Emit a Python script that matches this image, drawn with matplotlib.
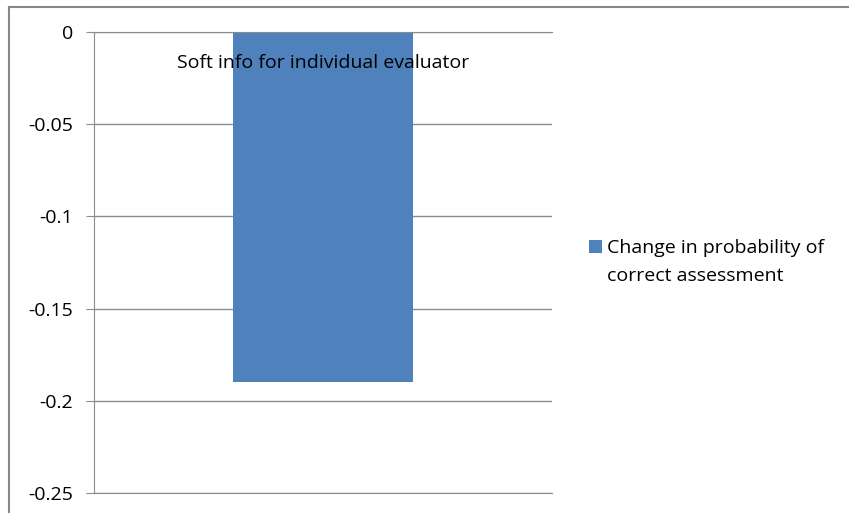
import matplotlib.pyplot as plt
from matplotlib.lines import Line2D
from matplotlib.patches import Rectangle
from matplotlib.legend_handler import HandlerPatch
from matplotlib.container import BarContainer

# Data
categories = ['Soft info for individual evaluator']
values = [-0.19]
series_name = 'Change in probability of\ncorrect assessment'
yticks = [0, -0.05, -0.1, -0.15, -0.2, -0.25]
ytick_labels = ['0', '-0.05', '-0.1', '-0.15', '-0.2', '-0.25']

plt.rcParams['font.family'] = ['Open Sans', 'DejaVu Sans']

grid_col = '#8c8c8c'
bar_col = '#4f81bd'
fs = 14
line_sp = 1.65

fig = plt.figure(figsize=(8.49, 5.13), dpi=100)

# outer chart border (top and left edges visible)
fig.add_artist(Line2D([9 / 849, 1], [1 - 7 / 513, 1 - 7 / 513], color='#888888', lw=1.5))
fig.add_artist(Line2D([9 / 849, 9 / 849], [0, 1 - 7 / 513], color='#888888', lw=1.5))

ax = fig.add_axes([94 / 849, 1 - 493 / 513, 458 / 849, 461 / 513])

ax.bar(range(len(categories)), values, width=0.395, color=bar_col, label=series_name, zorder=2)
ax.set_xlim(-0.5, 0.5)
ax.set_ylim(-0.25, 0)

ax.set_yticks(yticks, labels=ytick_labels)
ax.set_xticks([])
ax.grid(axis='y', color=grid_col, lw=1, zorder=0)
ax.spines['right'].set_visible(False)
for s in ['top', 'bottom', 'left']:
    ax.spines[s].set_color(grid_col)
ax.tick_params(axis='y', length=6, color=grid_col, pad=9, labelsize=fs)

# category label sits just under the zero axis line
for i, c in enumerate(categories):
    ax.annotate(c, xy=(i, 0), xytext=(0, -31), textcoords='offset pixels',
                ha='center', va='center', fontsize=fs, zorder=3)


# legend square next to the first line of the label, like Excel
def first_line_patch(legend, orig_handle, xdescent, ydescent, width, height, fontsize):
    return Rectangle((-xdescent, -ydescent + 0.5 * fontsize * line_sp), width, height)


def from_first_bar(handle, orig):
    handle.update_from(orig.patches[0])


leg = ax.legend(loc='center left', bbox_to_anchor=((589 - 94) / 458, (493 - 262) / 461),
                frameon=False, fontsize=fs, handlelength=0.65, handleheight=0.65,
                handletextpad=0.26, borderaxespad=0, borderpad=0,
                handler_map={BarContainer: HandlerPatch(patch_func=first_line_patch,
                                                        update_func=from_first_bar)})
for t in leg.get_texts():
    t.set_linespacing(line_sp)

fig.savefig('out.png', dpi=100)
